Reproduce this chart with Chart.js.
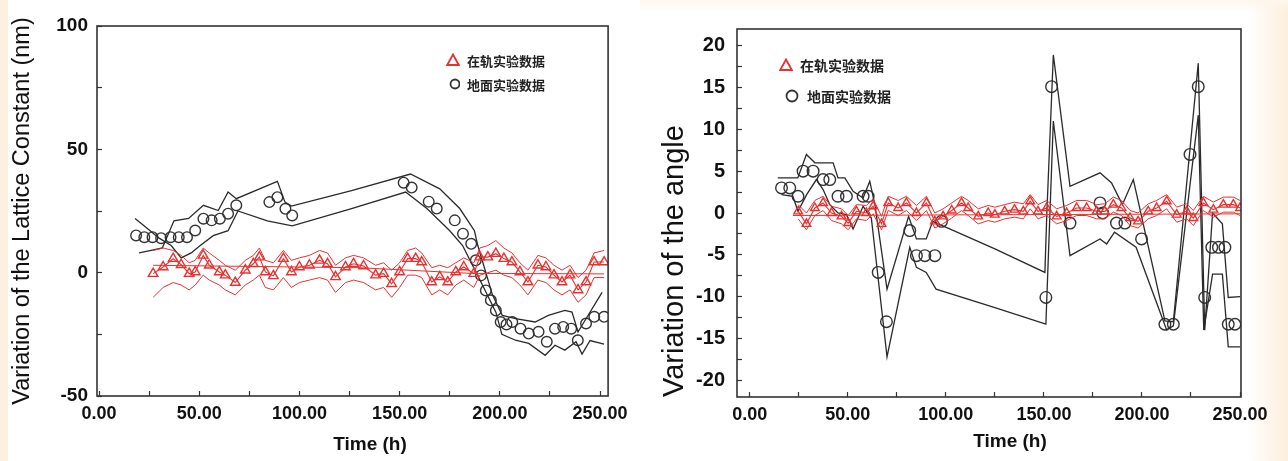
<!DOCTYPE html>
<html>
<head>
<meta charset="utf-8">
<script src="https://cdn.jsdelivr.net/npm/chart.js@4.4.1/dist/chart.umd.min.js"></script>
<style>
  html, body { margin: 0; padding: 0; }
  body { width: 1288px; height: 461px; position: relative; overflow: hidden; background: #fff; font-family: 'Liberation Sans', Arial, sans-serif; }
  .edge-l { position: absolute; left: 0; top: 0; width: 8px; height: 461px; background: #fdf0e1; }
  .edge-r { position: absolute; right: 0; top: 0; width: 40px; height: 461px; background: linear-gradient(to right, rgba(253,238,221,0), #fdeedd); }
  .edge-t { position: absolute; left: 640px; top: 0; width: 648px; height: 12px; background: linear-gradient(to bottom, #fef6ec, rgba(254,246,236,0)); }
  canvas { position: absolute; top: 0; }
  #lattice { left: 0; }
  #angle { left: 640px; }
  .xt { position: absolute; transform: translate(-50%, -50%); font-weight: bold; font-size: 19px; color: #111; white-space: nowrap; }
  .lg { position: absolute; display: flex; align-items: center; height: 16px; font-family: 'Noto Sans CJK SC', sans-serif; font-weight: bold; color: #222; white-space: nowrap; }
  .lg svg { display: block; margin-right: 7px; }
</style>
</head>
<body>
<div class="edge-l"></div>
<div class="edge-r"></div>
<div class="edge-t"></div>
<canvas id="lattice" width="640" height="461"></canvas>
<canvas id="angle" width="648" height="461"></canvas>

<div class="lg" style="left:446px;top:52px;font-size:13px"><svg width="14" height="14"><polygon points="7,1.5 12.8,12 1.2,12" fill="none" stroke="#e8312f" stroke-width="1.8"/></svg><span>在轨实验数据</span></div>
<div class="lg" style="left:446px;top:76px;font-size:13px"><svg width="14" height="14"><circle cx="9" cy="7" r="4.5" fill="none" stroke="#333" stroke-width="1.8"/></svg><span>地面实验数据</span></div>
<div class="lg" style="left:779px;top:57px;font-size:14px"><svg width="14" height="14"><polygon points="7,1.5 12.8,12 1.2,12" fill="none" stroke="#e8312f" stroke-width="1.8"/></svg><span>在轨实验数据</span></div>
<div class="lg" style="left:784px;top:88px;font-size:14px"><svg width="16" height="16"><circle cx="8" cy="8" r="5.5" fill="none" stroke="#333" stroke-width="1.8"/></svg><span>地面实验数据</span></div>

<div class="xt" style="left:370px;top:444px">Time (h)</div>
<div class="xt" style="left:1010px;top:441px">Time (h)</div>

<script>
// ---- shared ticks ----
const timeTicks = [0, 25, 50, 75, 100, 125, 150, 175, 200, 225, 250];
const latticeTicks = [-50, -25, 0, 25, 50, 75, 100];
const angleTicks = [-20, -17.5, -15, -12.5, -10, -7.5, -5, -2.5, 0, 2.5, 5, 7.5, 10, 12.5, 15, 17.5, 20];

// ---- left: lattice constant ----
const orbitTimeL = [27, 32, 37, 41, 45, 48, 52, 55, 60, 63, 68, 73, 77, 80, 83, 87, 92, 96, 100, 105,
  110, 114, 118, 123, 127, 132, 138, 142, 146, 150, 154, 158, 161, 166, 170, 174, 178, 182, 187, 190,
  194, 198, 202, 206, 210, 214, 219, 223, 227, 231, 235, 239, 243, 247, 252];
const orbitValL = [-0.4, 2.3, 5.7, 3.2, -0.4, 0.3, 7, 3, 0.3, -1, -4, 1, 3.6, 6.3, 0.3, -1.3, 5.7, 0.3, 2.3, 3,
  5, 3.6, -1.7, 2.3, 3.6, 2.7, -1, -0.4, -4.5, 0.3, 5.7, 5.7, 4.3, -3.8, -1.7, -3.8, 0.3, 2.3, -0.4, 6.3,
  6.3, 7.7, 5.7, 4.3, 0.3, -3.8, 3, 2.3, -1, -3.8, -1, -7, -3.8, 4.3, 4.3];
const orbitHighL = [9, 10, 9, 7, 4, 5, 10, 8, 5, 3, 1, 5, 7, 10, 5, 4, 9, 5, 6, 7,
  9, 8, 3, 6, 7, 6, 3, 4, 1, 4, 9, 10, 8, 2, 3, 2, 4, 6, 4, 10,
  11, 13, 10, 8, 4, 1, 7, 6, 3, 1, 3, -2, 1, 8, 9];
const orbitLowL = [-10, -6, -4, -5, -7, -5, -1, -3, -5, -7, -9, -5, -3, -1, -6, -7, -2, -6, -4, -3,
  -2, -3, -8, -4, -3, -4, -7, -6, -10, -6, -1, -1, -2, -9, -7, -9, -5, -3, -6, -1,
  0, 1, -1, -2, -5, -9, -3, -4, -7, -9, -7, -12, -9, -2, -2];
const orbitFitL = [[27, 3], [130, 2], [186, -0.3], [252, -0.5]];

const groundTimeL = [18.5, 22.6, 26.7, 31, 35.7, 39.8, 43.9, 48, 52.1, 56.2, 60.3, 64.4, 68.5, 85, 89, 93, 96.4,
  152, 156, 164.5, 168.5, 177.5, 181.6, 185.7, 188, 190.6, 193, 195.5, 198, 200.4, 203.3, 206.2, 210.3,
  214.4, 219.3, 223.4, 227.5, 231.6, 235.6, 238.9, 243, 247.1, 252];
const groundValL = [15.1, 14.4, 14.4, 14, 14.4, 14.4, 14.4, 17.1, 21.9, 21.2, 21.9, 23.9, 27.3, 28.6, 30.6, 25.9, 23.2,
  36.5, 34.5, 28.8, 26, 21.2, 15.8, 11.7, 5, -1.1, -7.2, -11.2, -15.3, -20, -21, -20, -22.7,
  -24.7, -24, -28, -22.7, -22, -22.7, -27.4, -20.6, -17.9, -17.9];
const groundEdgeAL = [[18, 22], [24, 18], [30, 14], [36, 11], [41, 6], [46, 8], [50.5, 11], [57, 15], [64.4, 17],
  [69.3, 25], [84, 21], [96.4, 19], [126, 26], [153, 32.7], [163.6, 26], [175, 17], [181.4, 11], [191.3, -5],
  [198, -16], [201, -25], [207.8, -27.4], [214.4, -28.7], [222.6, -33.5], [227.5, -29.4], [232.4, -31.4],
  [238, -28], [241, -33], [245, -27.5], [252, -29]];
const groundEdgeBL = [[20, 8], [26, 9], [31.6, 10], [37.4, 21], [44.7, 22], [52.1, 27.3], [59.5, 25.2], [64.4, 32.7],
  [68.5, 30], [89, 37], [92.8, 28.6], [96, 27], [126, 33.3], [155.4, 40], [170, 34], [180, 26], [187.3, 17],
  [189, 11], [196.3, -9], [201.2, -17.3], [207.8, -18.6], [217.6, -20], [224.2, -17.3], [232.4, -15.3],
  [236, -16], [239, -24], [242, -20], [251, -8]];

// ---- right: angle ----
const orbitTimeR = [24.7, 28.9, 33.2, 37.4, 41.7, 46.8, 50.2, 54.4, 59.5, 62.9, 67.2, 70.6, 75.7, 79.9, 85, 90.1, 94.4,
  98.6, 103, 108, 111.4, 116.5, 121.6, 125, 130, 135, 139.5, 143, 147, 151.4, 156.5, 161.6, 166.7, 171.8,
  176.9, 181, 185.4, 189.6, 193.9, 198, 203.2, 207.5, 212.6, 217.7, 222.8, 226.2, 231.3, 236.4, 241.5, 246.6, 250];
const orbitValR = [0.2, -1.3, 0.6, 1.2, 0, -0.4, -1.2, 0.2, 0, 0.8, -1.3, 1.2, 0.6, 1.2, 0, 1.2, -1,
  -0.4, 0.3, 1.2, 0.6, -0.4, 0, -0.2, 0.2, 0.4, 0.2, 1.4, 0.2, 0.6, -0.4, 0, 0.6, 0.6,
  0.2, 0.2, 1, 0.6, -0.6, -1, 0.2, 0.6, 1.4, -0.2, 0.2, -0.6, 1.2, 0.4, 1, 1, 0.6];
const orbitHighR = [1, 0, 1.5, 2, 0.8, 0.5, -0.3, 1, 0.9, 1.7, -0.4, 2, 1.5, 2, 0.9, 2, 0,
  0.5, 1.2, 2, 1.5, 0.5, 0.9, 0.7, 1, 1.3, 1.1, 2.2, 1, 1.5, 0.5, 0.9, 1.5, 1.5,
  1, 1.1, 1.9, 1.5, 0.3, 0, 1.1, 1.5, 2.2, 0.7, 1.1, 0.3, 2, 1.3, 1.9, 1.9, 1.5];
const orbitLowR = [-0.7, -2, -0.3, 0.3, -0.9, -1.3, -2, -0.7, -0.9, -0.1, -2, 0.3, -0.3, 0.3, -0.9, 0.3, -1.8,
  -1.3, -0.6, 0.3, -0.3, -1.3, -0.9, -1.1, -0.7, -0.5, -0.7, 0.5, -0.7, -0.3, -1.3, -0.9, -0.3, -0.3,
  -0.7, -0.7, 0.1, -0.3, -1.5, -1.8, -0.7, -0.3, 0.5, -1.1, -0.7, -1.5, 0.3, -0.5, 0.1, 0.1, -0.3];
const orbitFitR = [[22, -0.3], [250, -0.1]];

const groundTimeR = [16.2, 20.4, 24.6, 27.2, 32.3, 37.4, 40.8, 45, 49.3, 57.8, 60.4, 65.5, 69.7, 81.6, 85, 89.3, 94.4,
  97.8, 151, 153.9, 163.3, 178.6, 180, 187, 191.3, 199.8, 211.7, 216, 224.5, 228.7, 232, 235.6, 239, 242.3, 244, 247.4];
const groundValR = [3, 3, 2, 5, 5, 4, 4, 2, 2, 2, 2, -7.1, -13, -2.1, -5.1, -5.1, -5.1,
  -1, -10.1, 15.1, -1.2, 1.2, 0, -1.2, -1.2, -3.1, -13.3, -13.3, 7, 15.1, -10.1, -4.1, -4.1, -4.1, -13.3, -13.3];
const groundHighR = [[14.3, 4.2], [24.5, 4.2], [28.9, 7], [33.2, 6], [42.5, 6], [45, 4.2], [48.5, 4.2], [52.7, 2.6],
  [57.8, 1.8], [61.2, 3.8], [63.8, 1], [70, -9.1], [81, -0.4], [85, -3.1], [90, -3.1], [93.3, -1], [125, -4.3],
  [150.5, -7.1], [151.5, 0], [154.8, 18.9], [163.3, 3.2], [178.6, 4.8], [184.5, 3.6], [190, 1], [195.6, 4],
  [211.7, -12.9], [216, -13], [228.7, 17.9], [232, -14], [236, 0], [241, -1.3], [244, -10.1], [250, -10]];
const groundLowR = [[16.2, 2.2], [22, 2], [24.6, 0.2], [29, 2.2], [34, 4], [37.4, 2.8], [40.8, 1], [45, 0], [49.3, -0.2],
  [52.7, -1.9], [57.8, 0.8], [62, -0.6], [70, -17.2], [81.6, -4.1], [85, -6.5], [90, -7.1], [95, -9.1], [125, -11.3],
  [151, -13.3], [154.8, 11], [163.3, -5.1], [178.6, -3.1], [182, -3.7], [186, -2.3], [197, -4.1], [212.6, -14],
  [216, -13.5], [228.7, 11.7], [231.5, -14], [236, -7.3], [241, -7.3], [244, -16], [250, -16]];

// ---- helpers ----
const RED = '#e8312f';
const BLACK = '#2a2a2a';
const FONT = "'Liberation Sans', Arial, sans-serif";

const zip = (xs, ys) => xs.map((x, i) => ({x: x, y: ys[i]}));
const pairs = (list) => list.map(p => ({x: p[0], y: p[1]}));

function line(data, color, width) {
  return {data: data, showLine: true, borderColor: color, borderWidth: width, pointRadius: 0, fill: false, tension: 0};
}
function marks(data, style, color, r, joined) {
  return {data: data, showLine: joined, borderColor: color, borderWidth: 1.1, pointStyle: style, pointRadius: r,
    pointBorderWidth: 1.4, pointBorderColor: color, pointBackgroundColor: 'rgba(0,0,0,0)', backgroundColor: 'rgba(0,0,0,0)'};
}

const frame = {
  id: 'frame',
  afterDatasetsDraw(chart) {
    const a = chart.chartArea;
    const ctx = chart.ctx;
    ctx.save();
    ctx.strokeStyle = '#333';
    ctx.lineWidth = 1.6;
    ctx.strokeRect(a.left, a.top, a.right - a.left, a.bottom - a.top);
    ctx.restore();
  }
};

function timeAxis(min, max, h) {
  return {
    type: 'linear', min: min, max: max,
    afterBuildTicks: s => { s.ticks = timeTicks.map(v => ({value: v})); },
    afterFit: s => { s.height = h; },
    ticks: {autoSkip: false, maxRotation: 0, padding: 12, color: '#111',
      font: {family: FONT, size: 18, weight: 'bold'},
      callback: v => (v % 50 === 0 ? v.toFixed(2) : '')},
    grid: {drawOnChartArea: false, tickLength: -5, color: '#333', tickWidth: 1.2},
    border: {display: false}
  };
}

// left chart
new Chart(document.getElementById('lattice'), {
  type: 'scatter',
  data: {
    datasets: [
      line(pairs(orbitFitL), RED, 1),
      line(zip(orbitTimeL, orbitHighL), RED, 1),
      line(zip(orbitTimeL, orbitLowL), RED, 1),
      marks(zip(orbitTimeL, orbitValL), 'triangle', RED, 5.5, true),
      line(pairs(groundEdgeAL), BLACK, 1.3),
      line(pairs(groundEdgeBL), BLACK, 1.3),
      marks(zip(groundTimeL, groundValL), 'circle', '#333', 5.3, false)
    ]
  },
  options: {
    responsive: false, animation: false, events: [], devicePixelRatio: 1,
    layout: {padding: {left: 0, right: 25, top: 26, bottom: 0}},
    plugins: {legend: {display: false}, tooltip: {enabled: false}},
    scales: {
      x: timeAxis(-1, 254, 65),
      y: {
        type: 'linear', min: -50, max: 100,
        afterBuildTicks: s => { s.ticks = latticeTicks.map(v => ({value: v})); },
        afterFit: s => { s.width = 97; },
        ticks: {autoSkip: false, padding: 14, color: '#111', font: {family: FONT, size: 19, weight: 'bold'},
          callback: v => (v % 50 === 0 ? String(v) : '')},
        grid: {drawOnChartArea: false, tickLength: -5, color: '#333', tickWidth: 1.2},
        border: {display: false},
        title: {display: true, text: 'Variation of the Lattice Constant (nm)', color: '#111',
          font: {family: FONT, size: 23.5}, padding: {top: 8, bottom: 0}}
      }
    }
  },
  plugins: [frame]
});

// right chart
new Chart(document.getElementById('angle'), {
  type: 'scatter',
  data: {
    datasets: [
      line(pairs(orbitFitR), RED, 1),
      line(zip(orbitTimeR, orbitHighR), RED, 1),
      line(zip(orbitTimeR, orbitLowR), RED, 1),
      marks(zip(orbitTimeR, orbitValR), 'triangle', RED, 5, true),
      line(pairs(groundHighR), BLACK, 1.3),
      line(pairs(groundLowR), BLACK, 1.3),
      marks(zip(groundTimeR, groundValR), 'circle', '#333', 5.8, false)
    ]
  },
  options: {
    responsive: false, animation: false, events: [], devicePixelRatio: 1,
    layout: {padding: {left: 0, right: 47, top: 27, bottom: 0}},
    plugins: {legend: {display: false}, tooltip: {enabled: false}},
    scales: {
      x: timeAxis(-6.5, 250.5, 64),
      y: {
        type: 'linear', min: -22, max: 22,
        afterBuildTicks: s => { s.ticks = angleTicks.map(v => ({value: v})); },
        afterFit: s => { s.width = 97; },
        ticks: {autoSkip: false, padding: 17, color: '#111', font: {family: FONT, size: 20, weight: 'bold'},
          callback: v => (v % 5 === 0 ? String(v) : '')},
        grid: {drawOnChartArea: false, tickLength: -5, color: '#333', tickWidth: 1.2},
        border: {display: false},
        title: {display: true, text: 'Variation of the angle', color: '#111', align: 'start',
          font: {family: FONT, size: 29}, padding: {top: 18, bottom: 0}}
      }
    }
  },
  plugins: [frame]
});
</script>
</body>
</html>
